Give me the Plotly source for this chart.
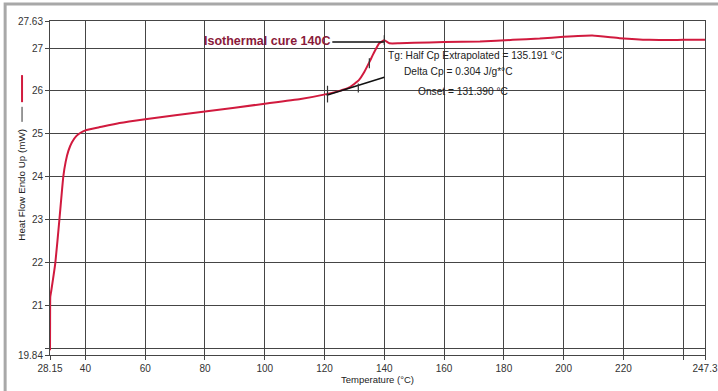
import plotly.graph_objects as go

# ---- data ----
temperature = [28.15, 28.18, 28.25, 28.6, 29.95, 31.3, 32.6, 33.4, 34.3, 35.5, 37.0, 38.5, 40.0,
               44.6, 51.4, 60.0, 80.0, 100.0, 112.0, 121.0, 125.0, 128.3, 131.5,
               133.3, 135.0, 136.6, 138.3, 140.0, 141.7, 145.0, 150.0, 160.0, 172.0,
               183.0, 192.0, 200.0, 209.6, 218.7, 228.7, 240.0, 247.3]
heat_flow = [19.95, 20.6, 21.2, 21.35, 22.0, 23.0, 24.0, 24.35, 24.6, 24.8, 24.95, 25.03, 25.08,
             25.15, 25.25, 25.34, 25.52, 25.70, 25.81, 25.93, 26.0, 26.08, 26.25,
             26.44, 26.67, 26.9, 27.11, 27.18, 27.11, 27.11, 27.12, 27.14, 27.15,
             27.19, 27.22, 27.26, 27.29, 27.23, 27.19, 27.19, 27.19]

tangent_x = [120.7, 140.0]
tangent_y = [25.90, 26.32]
iso_x = [122.6, 140.0]
iso_y = [27.14, 27.14]
marker_x = [121.0, 131.3, 135.0, 140.0]
marker_lo = [25.73, 25.96, 26.53, 27.07]
marker_hi = [26.12, 26.17, 26.76, 27.30]

x_ticks = [28.15, 40, 60, 80, 100, 120, 140, 160, 180, 200, 220, 240, 247.3]
x_labels = ["28.15", "40", "60", "80", "100", "120", "140", "160", "180", "200", "220", "", "247.3"]
y_ticks = [19.84, 20, 21, 22, 23, 24, 25, 26, 27, 27.63]
y_labels = ["19.84", "", "21", "22", "23", "24", "25", "26", "27", "27.63"]

RED = "#d11a3e"
GRID = "#454545"
FONT = "Liberation Sans, Arial, sans-serif"

fig = go.Figure()
fig.add_trace(go.Scatter(x=temperature, y=heat_flow, mode="lines",
                         line=dict(color=RED, width=2, shape="spline", smoothing=0.4),
                         hoverinfo="skip", showlegend=False))
fig.add_trace(go.Scatter(x=tangent_x, y=tangent_y, mode="lines",
                         line=dict(color="#111111", width=1.5), showlegend=False))
fig.add_trace(go.Scatter(x=iso_x, y=iso_y, mode="lines",
                         line=dict(color="#111111", width=1.5), showlegend=False))
for mx, lo, hi in zip(marker_x, marker_lo, marker_hi):
    fig.add_trace(go.Scatter(x=[mx, mx], y=[lo, hi], mode="lines",
                             line=dict(color="#333333", width=1.2), showlegend=False))

# annotations (texts)
fig.add_annotation(x=122.4, y=27.17, text="<b>Isothermal cure 140C</b>", xanchor="right",
                   yanchor="middle", showarrow=False,
                   font=dict(family=FONT, size=12.5, color="#8a1a3a"))
fig.add_annotation(x=140.7, y=26.83, text="Tg: Half Cp Extrapolated = 135.191 °C",
                   xanchor="left", yanchor="middle", showarrow=False,
                   font=dict(family=FONT, size=10.2, color="#222222"))
fig.add_annotation(x=145.9, y=26.45, text="Delta Cp = 0.304 J/g*°C",
                   xanchor="left", yanchor="middle", showarrow=False,
                   font=dict(family=FONT, size=10.2, color="#222222"))
fig.add_annotation(x=150.5, y=25.99, text="Onset = 131.390 °C",
                   xanchor="left", yanchor="middle", showarrow=False,
                   font=dict(family=FONT, size=10.2, color="#222222"))

# y axis title with little legend lines
fig.add_annotation(xref="paper", yref="paper", x=-0.0427, y=0.51,
                   text="Heat Flow Endo Up (mW)", textangle=-90, showarrow=False,
                   xanchor="center", yanchor="middle",
                   font=dict(family=FONT, size=9.8, color="#222222"))
fig.add_shape(type="line", xref="paper", yref="paper", x0=-0.0427, x1=-0.0427,
              y0=0.757, y1=0.838, line=dict(color=RED, width=2))
fig.add_shape(type="line", xref="paper", yref="paper", x0=-0.0427, x1=-0.0427,
              y0=0.698, y1=0.743, line=dict(color="#333333", width=1))
# outer gray frame (left & top)
fig.add_shape(type="rect", xref="paper", yref="paper", x0=-0.0685, x1=1.2,
              y0=-0.2, y1=1.051, line=dict(color="#a8a8a8", width=3), layer="below")

fig.update_xaxes(range=[28.15, 247.3], tickvals=x_ticks, ticktext=x_labels,
                 automargin=False,
                 showgrid=True, gridcolor=GRID, gridwidth=1,
                 showline=True, linecolor=GRID, linewidth=1, mirror=True,
                 ticks="outside", ticklen=4, tickcolor=GRID, zeroline=False,
                 tickfont=dict(family=FONT, size=10, color="#333333"),
                 title=dict(text="Temperature (°C)", standoff=3,
                            font=dict(family=FONT, size=9.5, color="#222222")))
fig.update_yaxes(range=[19.84, 27.63], tickvals=y_ticks, ticktext=y_labels,
                 automargin=False,
                 showgrid=True, gridcolor=GRID, gridwidth=1,
                 showline=True, linecolor=GRID, linewidth=1, mirror=True,
                 ticks="outside", ticklen=4, tickcolor=GRID, zeroline=False,
                 tickfont=dict(family=FONT, size=10, color="#333333"))

fig.update_layout(width=718, height=391, margin=dict(l=50, r=13, t=21, b=36, autoexpand=False),
                  plot_bgcolor="white", paper_bgcolor="white", showlegend=False)

fig.write_html("out.html", config={"displayModeBar": False},
               post_script="document.body.style.margin='0';document.body.style.overflow='hidden';")
